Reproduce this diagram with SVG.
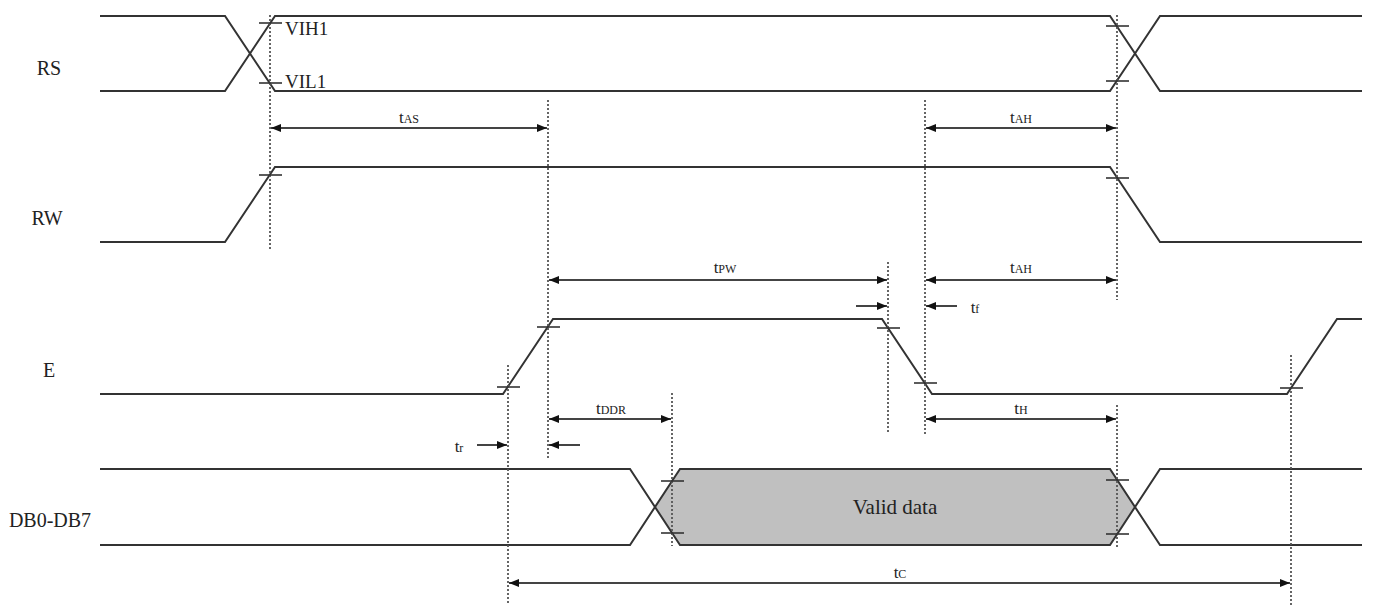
<svg xmlns="http://www.w3.org/2000/svg" width="1376" height="605" viewBox="0 0 1376 605">
<defs>
<marker id="ah" viewBox="0 0 10 8" refX="10" refY="4" markerWidth="10" markerHeight="8" markerUnits="userSpaceOnUse" orient="auto-start-reverse">
<path d="M0,0 L10,4 L0,8 z" fill="#111"/>
</marker>
<style>
.sig{fill:none;stroke:#333;stroke-width:2;stroke-linejoin:miter}
.dash{fill:none;stroke:#555;stroke-width:1.8;stroke-dasharray:2,2}
.tick{stroke:#333;stroke-width:1.6}
.dim{fill:none;stroke:#444;stroke-width:2;marker-end:url(#ah)}
.dim2{fill:none;stroke:#444;stroke-width:2;marker-start:url(#ah);marker-end:url(#ah)}
.lbl{font-family:"Liberation Serif","Times New Roman",serif;font-size:20px;fill:#222;text-anchor:middle}
.t{font-family:"Liberation Serif","Times New Roman",serif;font-size:17px;fill:#222;text-anchor:middle}
.sub{font-size:12px}
.lv{font-family:"Liberation Serif","Times New Roman",serif;font-size:19px;fill:#222}
</style>
</defs>
<rect width="1376" height="605" fill="#fff"/>

<g id="labels">
<text class="lbl" x="49" y="75">RS</text>
<text class="lbl" x="47" y="225">RW</text>
<text class="lbl" x="49" y="377">E</text>
<text class="lbl" x="50" y="527">DB0-DB7</text>
</g>

<g id="RS">
<path class="sig" d="M100,16 H225 L275,91 H1110 L1160,16 H1362"/>
<path class="sig" d="M100,91 H225 L275,16 H1110 L1160,91 H1362"/>
<text class="lv" x="285" y="35">VIH1</text>
<text class="lv" x="285" y="88">VIL1</text>
</g>

<g id="RW">
<path class="sig" d="M100,242 H225 L275,167 H1110 L1160,242 H1362"/>
</g>

<g id="E">
<path class="sig" d="M100,394 H503 L553,319 H882 L932,394 H1287 L1337,319 H1362"/>
</g>

<g id="DB">
<path d="M655,507 L680,469 H1110 L1135,507 L1110,545 H680 z" fill="#c0c0c0"/>
<path class="sig" d="M100,469 H630 L680,545 H1110 L1160,469 H1362"/>
<path class="sig" d="M100,545 H630 L680,469 H1110 L1160,545 H1362"/>
<text class="lbl" x="895" y="514" style="font-size:21px">Valid data</text>
</g>

<g id="guides">
<line class="dash" x1="270" y1="15" x2="270" y2="250"/>
<line class="dash" x1="548" y1="100" x2="548" y2="460"/>
<line class="dash" x1="925" y1="100" x2="925" y2="435"/>
<line class="dash" x1="1117" y1="15" x2="1117" y2="300"/>
<line class="dash" x1="888" y1="262" x2="888" y2="432"/>
<line class="dash" x1="508" y1="365" x2="508" y2="605"/>
<line class="dash" x1="672" y1="393" x2="672" y2="546"/>
<line class="dash" x1="1117" y1="405" x2="1117" y2="548"/>
<line class="dash" x1="1291" y1="355" x2="1291" y2="605"/>
</g>

<g id="ticks">
<line class="tick" x1="259" y1="23" x2="282" y2="23"/>
<line class="tick" x1="259" y1="83" x2="282" y2="83"/>
<line class="tick" x1="259" y1="175" x2="282" y2="175"/>
<line class="tick" x1="1106" y1="26" x2="1129" y2="26"/>
<line class="tick" x1="1106" y1="81" x2="1129" y2="81"/>
<line class="tick" x1="1106" y1="178" x2="1129" y2="178"/>
<line class="tick" x1="497" y1="387" x2="520" y2="387"/>
<line class="tick" x1="537" y1="327" x2="560" y2="327"/>
<line class="tick" x1="877" y1="328" x2="900" y2="328"/>
<line class="tick" x1="914" y1="383" x2="937" y2="383"/>
<line class="tick" x1="1280" y1="388" x2="1303" y2="388"/>
<line class="tick" x1="661" y1="481" x2="684" y2="481"/>
<line class="tick" x1="661" y1="533" x2="684" y2="533"/>
<line class="tick" x1="1106" y1="480" x2="1129" y2="480"/>
<line class="tick" x1="1106" y1="534" x2="1129" y2="534"/>
</g>

<g id="connectors">
<line class="dim2" x1="271" y1="128" x2="547" y2="128"/>
<line class="dim2" x1="926" y1="128" x2="1116" y2="128"/>
<line class="dim2" x1="549" y1="280" x2="887" y2="280"/>
<line class="dim2" x1="926" y1="280" x2="1116" y2="280"/>
<line class="dim" x1="856" y1="306" x2="887" y2="306"/>
<line class="dim" x1="957" y1="306" x2="926" y2="306"/>
<line class="dim2" x1="549" y1="419" x2="671" y2="419"/>
<line class="dim2" x1="926" y1="419" x2="1116" y2="419"/>
<line class="dim" x1="477" y1="445" x2="507" y2="445"/>
<line class="dim" x1="580" y1="445" x2="549" y2="445"/>
<line class="dim2" x1="509" y1="583" x2="1290" y2="583"/>
</g>

<g id="dimlabels">
<text class="t" x="409" y="123">t<tspan class="sub">AS</tspan></text>
<text class="t" x="1021" y="123">t<tspan class="sub">AH</tspan></text>
<text class="t" x="725" y="273">t<tspan class="sub">PW</tspan></text>
<text class="t" x="1021" y="273">t<tspan class="sub">AH</tspan></text>
<text class="t" x="975" y="313">t<tspan class="sub">f</tspan></text>
<text class="t" x="611" y="414">t<tspan class="sub">DDR</tspan></text>
<text class="t" x="1021" y="414">t<tspan class="sub">H</tspan></text>
<text class="t" x="459" y="452">t<tspan class="sub">r</tspan></text>
<text class="t" x="900" y="578">t<tspan class="sub">C</tspan></text>
</g>
</svg>
